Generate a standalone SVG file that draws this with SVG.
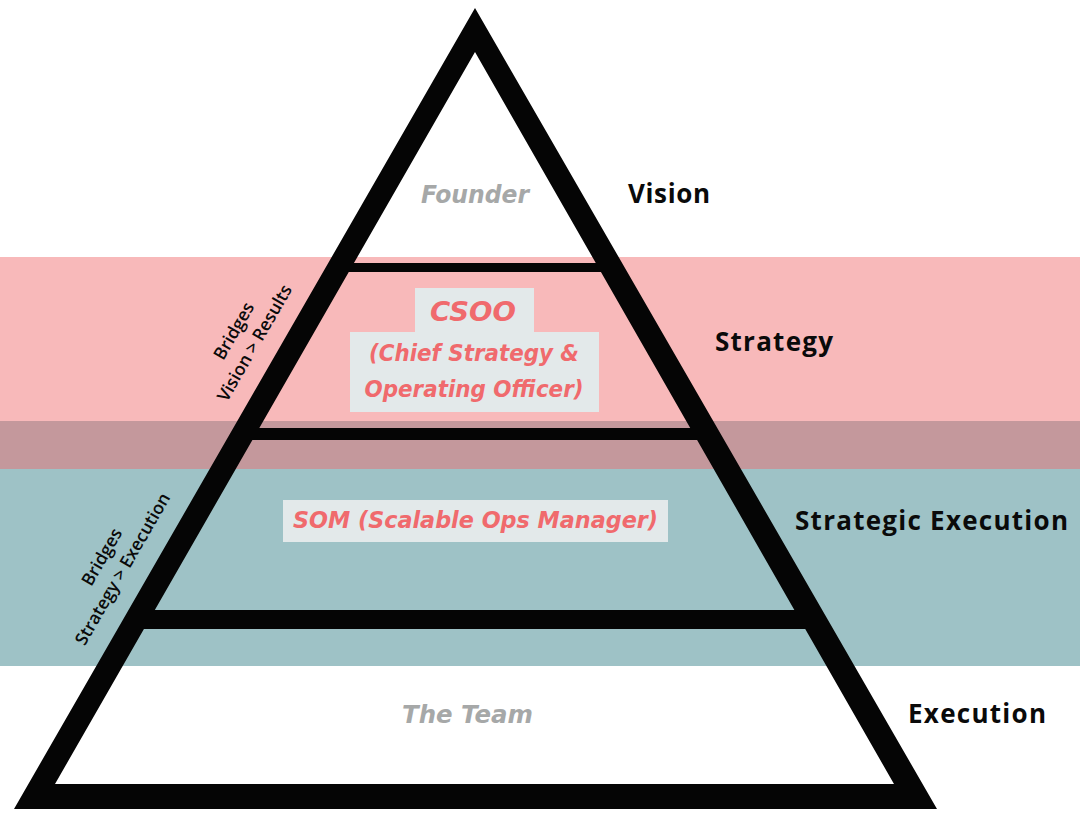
<svg xmlns="http://www.w3.org/2000/svg" width="1080" height="815" viewBox="0 0 1080 815">
<style>
.head{font-family:"Open Sans","Liberation Sans",sans-serif;font-weight:700;font-size:26px;fill:#0a0a0a}
.gray{font-family:"DejaVu Sans","Open Sans",sans-serif;font-weight:700;font-style:italic;font-size:25px;fill:#a6a8a8;text-anchor:middle}
.pink{font-family:"DejaVu Sans","Open Sans",sans-serif;font-weight:700;font-style:italic;fill:#f06a6d;text-anchor:middle}
.box{fill:#e3e9ea}
.bridge{font-family:"Open Sans","Liberation Sans",sans-serif;font-weight:600;font-size:17.5px;fill:#0a0a0a;text-anchor:middle}
.bar{fill:#050505}
</style>
<rect width="1080" height="815" fill="#ffffff"/>
<g id="bands">
<rect x="0" y="257" width="1080" height="164" fill="#f8b9ba"/>
<rect x="0" y="421" width="1080" height="48" fill="#c4989c"/>
<rect x="0" y="469" width="1080" height="197" fill="#9ec2c6"/>
</g>
<g id="pyramid">
<path class="bar" fill-rule="evenodd" d="M475,8 L14,809 L937,809 Z M475,52 L55,784 L894,784 Z"/>
<rect class="bar" x="345" y="263" width="260" height="9"/>
<rect class="bar" x="250" y="428" width="450" height="12"/>
<rect class="bar" x="140" y="610" width="672" height="19"/>
</g>
<g id="founder">
<text class="gray" x="475" y="203" textLength="108" lengthAdjust="spacingAndGlyphs">Founder</text>
</g>
<g id="csoo">
<rect class="box" x="415" y="288" width="119" height="44"/>
<rect class="box" x="350" y="332" width="249" height="80"/>
<text class="pink" x="473" y="321" font-size="27" textLength="86" lengthAdjust="spacingAndGlyphs">CSOO</text>
<text class="pink" x="474" y="361" font-size="23" textLength="210" lengthAdjust="spacingAndGlyphs">(Chief Strategy &amp;</text>
<text class="pink" x="474" y="397" font-size="23" textLength="219" lengthAdjust="spacingAndGlyphs">Operating Officer)</text>
</g>
<g id="som">
<rect class="box" x="283" y="500" width="385" height="42"/>
<text class="pink" x="475.5" y="528" font-size="23" textLength="365" lengthAdjust="spacingAndGlyphs">SOM (Scalable Ops Manager)</text>
</g>
<g id="team">
<text class="gray" x="467.5" y="723" textLength="131" lengthAdjust="spacingAndGlyphs">The Team</text>
</g>
<g id="labels">
<text class="head" x="628" y="203" textLength="82">Vision</text>
<text class="head" x="715" y="351" textLength="118">Strategy</text>
<text class="head" x="795" y="530" textLength="273">Strategic Execution</text>
<text class="head" x="908" y="723" textLength="138">Execution</text>
</g>
<g id="bridges">
<g transform="translate(239,334) rotate(-60)">
<text class="bridge" x="0" y="0">Bridges</text>
<text class="bridge" x="0" y="24">Vision &gt; Results</text>
</g>
<g transform="translate(107,560) rotate(-60)">
<text class="bridge" x="0" y="0">Bridges</text>
<text class="bridge" x="0" y="24">Strategy &gt; Execution</text>
</g>
</g>
</svg>
